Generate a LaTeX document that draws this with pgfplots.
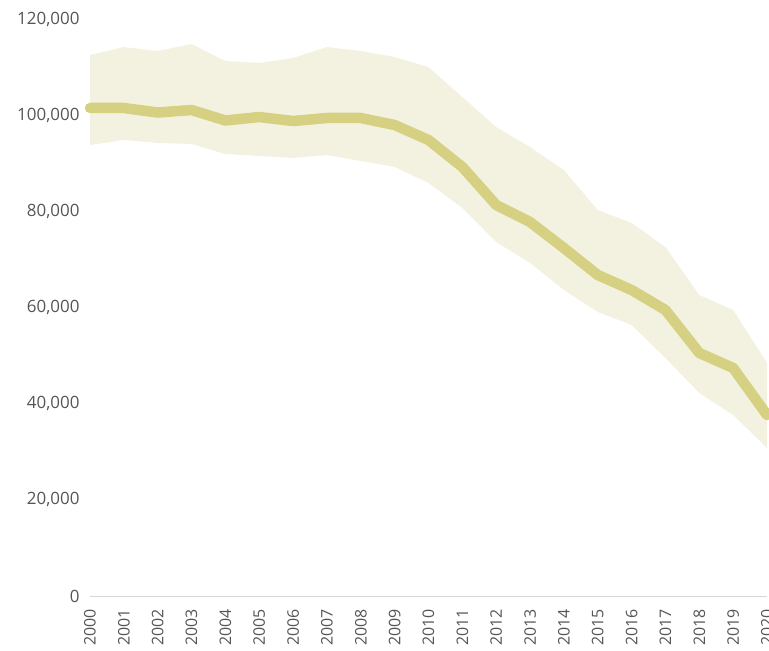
\documentclass[border=0pt]{standalone}
\usepackage{fontspec}
\setmainfont{Open Sans}
\usepackage{pgfplots}
\pgfplotsset{compat=1.18}
\usepgfplotslibrary{fillbetween}
\definecolor{linecol}{RGB}{214,208,130}
\definecolor{bandcol}{RGB}{243,242,225}
\definecolor{tickcol}{RGB}{85,85,85}
\definecolor{basecol}{RGB}{215,215,215}
\begin{document}
\begin{tikzpicture}
\begin{axis}[
  name=ax,
  width=677bp, height=577bp, scale only axis,
  xmin=2000, xmax=2020, ymin=0, ymax=120000,
  xtick={2000,2001,...,2020},
  xticklabels={2000,2001,2002,2003,2004,2005,2006,2007,2008,2009,2010,2011,2012,2013,2014,2015,2016,2017,2018,2019,2020},
  ytick={0,20000,40000,60000,80000,100000,120000},
  yticklabels={0,{20,000},{40,000},{60,000},{80,000},{100,000},{120,000}},
  scaled y ticks=false,
  separate axis lines,
  axis x line*=bottom, axis y line*=left,
  x axis line style={draw=basecol, line width=0.8bp, -},
  y axis line style={draw=none},
  major tick length=0pt,
  tick label style={text=tickcol},
  yticklabel style={font=\fontsize{17}{20}\selectfont},
  xticklabel style={rotate=90, anchor=east, font=\fontsize{16}{19}\selectfont},
  xticklabel shift=10bp,
  yticklabel shift=7bp,
  clip=false,
]
\addplot[draw=none, name path=U] coordinates {
(2000,112510) (2001,114180) (2002,113340) (2003,114800) (2004,111260)
(2005,110850) (2006,111890) (2007,114180) (2008,113340) (2009,112100)
(2010,110020) (2011,103780) (2012,97540) (2013,93380) (2014,88600)
(2015,80280) (2016,77570) (2017,72580) (2018,62600) (2019,59480) (2020,48460)};
\addplot[draw=none, name path=L] coordinates {
(2000,93790) (2001,94830) (2002,94210) (2003,94000) (2004,91920)
(2005,91510) (2006,91090) (2007,91710) (2008,90470) (2009,89220)
(2010,85890) (2011,80690) (2012,73620) (2013,69250) (2014,63640)
(2015,59060) (2016,56360) (2017,49500) (2018,42220) (2019,37640) (2020,30780)};
\addplot[fill=bandcol, draw=none] fill between[of=U and L];
\addplot[color=linecol, line width=10.5bp, line cap=round, line join=round, mark=none] coordinates {
(2000,101490) (2001,101490) (2002,100550) (2003,101070) (2004,98890)
(2005,99610) (2006,98780) (2007,99410) (2008,99410) (2009,97950)
(2010,94830) (2011,89220) (2012,81320) (2013,77780) (2014,72370)
(2015,66760) (2016,63640) (2017,59480) (2018,50540) (2019,47420) (2020,37640)};
\end{axis}
\pgfresetboundingbox
\path[use as bounding box] ([shift={(-90bp,-55bp)}]ax.south west) rectangle ([shift={(2bp,19bp)}]ax.north east);
\end{tikzpicture}
\end{document}
